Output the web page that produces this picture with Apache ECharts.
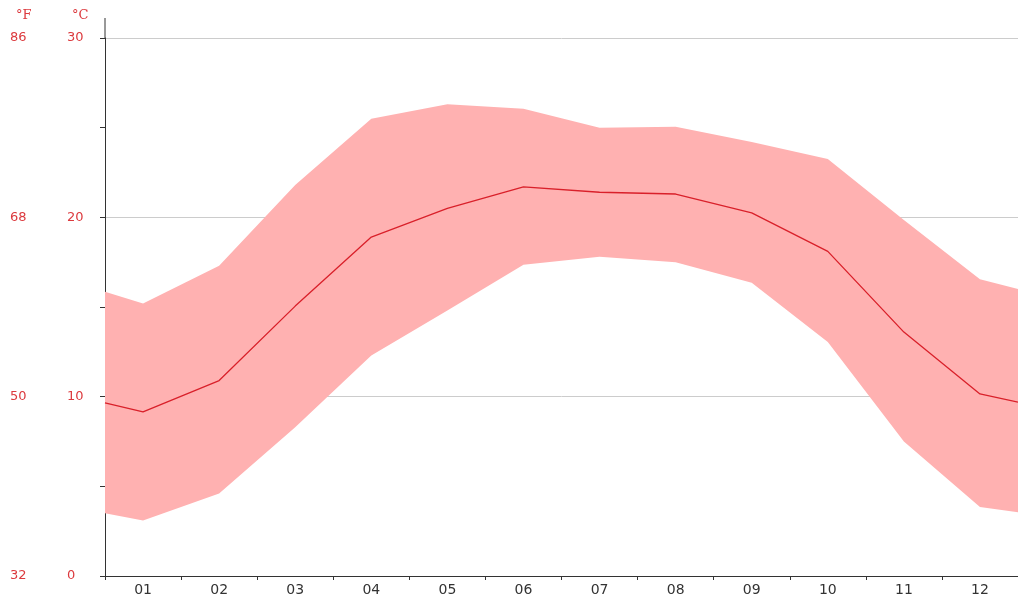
<!DOCTYPE html>
<html>
<head>
<meta charset="utf-8">
<style>
  html, body { margin: 0; padding: 0; background: #fff; }
  #chart { width: 1018px; height: 601px; }
</style>
<script src="https://cdn.jsdelivr.net/npm/echarts@6/dist/echarts.min.js"></script>
</head>
<body>
<div id="chart"></div>
<script>
  var months = ['01', '02', '03', '04', '05', '06', '07', '08', '09', '10', '11', '12'];
  // positions along the year: edges, then month centres
  var positions = [0, 0.5, 1.5, 2.5, 3.5, 4.5, 5.5, 6.5, 7.5, 8.5, 9.5, 10.5, 11.5, 12];
  var meanTemp = [9.65, 9.15, 10.9, 15.05, 18.9, 20.5, 21.7, 21.4, 21.3, 20.25, 18.1, 13.6, 10.15, 9.7];
  var maxTemp = [15.85, 15.2, 17.3, 21.8, 25.5, 26.3, 26.05, 25.0, 25.05, 24.2, 23.25, 19.85, 16.55, 16.0];
  var minTemp = [3.5, 3.1, 4.6, 8.3, 12.3, 14.8, 17.35, 17.8, 17.5, 16.35, 13.05, 7.5, 3.85, 3.55];

  var chartDom = document.getElementById('chart');
  var myChart = echarts.init(chartDom, null, { renderer: 'canvas' });

  var red = '#dc3a3e';
  var axisColor = '#333';

  function pairs(values) {
    return values.map(function (v, i) { return [positions[i], v]; });
  }

  // min/max band as one polygon, placed through the axis scales
  function renderBand(params, api) {
    if (params.dataIndex !== 0) return;
    var pts = [];
    for (var i = 0; i < positions.length; i++) pts.push(api.coord([positions[i], maxTemp[i]]));
    for (var j = positions.length - 1; j >= 0; j--) pts.push(api.coord([positions[j], minTemp[j]]));
    return {
      type: 'polygon',
      shape: { points: pts },
      style: { fill: '#ffb1b1' }
    };
  }

  var option = {
    animation: false,
    title: [
      { text: '°F', left: 11, top: 4, textStyle: { color: red, fontSize: 13, fontWeight: 'normal', fontFamily: 'DejaVu Serif' } },
      { text: '°C', left: 67, top: 4, textStyle: { color: red, fontSize: 13, fontWeight: 'normal', fontFamily: 'DejaVu Serif' } }
    ],
    grid: { left: 105, right: 0, top: 38, bottom: 25 },
    xAxis: [
      {
        type: 'value', min: 0, max: 12, interval: 1,
        axisLine: { lineStyle: { color: axisColor, width: 1 } },
        axisTick: { length: 4, lineStyle: { color: axisColor } },
        axisLabel: { show: false },
        splitLine: { show: false }
      },
      {
        type: 'category', data: months, position: 'bottom', boundaryGap: true,
        axisLine: { show: false }, axisTick: { show: false },
        axisLabel: { color: axisColor, fontSize: 14, margin: 7, fontFamily: 'DejaVu Sans' }
      }
    ],
    yAxis: [
      {
        type: 'value', min: 0, max: 30, interval: 10,
        axisLine: { show: true, lineStyle: { color: axisColor, width: 1 } },
        axisTick: { show: true, length: 5, lineStyle: { color: axisColor } },
        minorTick: { show: true, splitNumber: 2, length: 5, lineStyle: { color: axisColor } },
        axisLabel: { color: red, fontSize: 13, align: 'left', margin: 38, fontFamily: 'DejaVu Sans' },
        splitLine: { lineStyle: { color: '#cccccc', width: 1 } }
      },
      {
        type: 'value', min: 32, max: 86, interval: 18, position: 'left',
        axisLine: { show: false }, axisTick: { show: false }, splitLine: { show: false },
        axisLabel: { color: red, fontSize: 13, align: 'left', margin: 95, fontFamily: 'DejaVu Sans' }
      }
    ],
    graphic: [
      { type: 'line', shape: { x1: 105, y1: 18, x2: 105, y2: 38 }, style: { stroke: axisColor, lineWidth: 1 } }
    ],
    series: [
      {
        name: 'range', type: 'custom', xAxisIndex: 0, yAxisIndex: 0,
        renderItem: renderBand, data: [[positions[0], minTemp[0]]], z: 1, silent: true
      },
      {
        name: 'mean', type: 'line', xAxisIndex: 0, yAxisIndex: 0, data: pairs(meanTemp),
        symbol: 'none', lineStyle: { color: '#d9202a', width: 1.3 }, z: 3
      }
    ]
  };

  myChart.setOption(option);
  window.addEventListener('resize', myChart.resize);
</script>
</body>
</html>
